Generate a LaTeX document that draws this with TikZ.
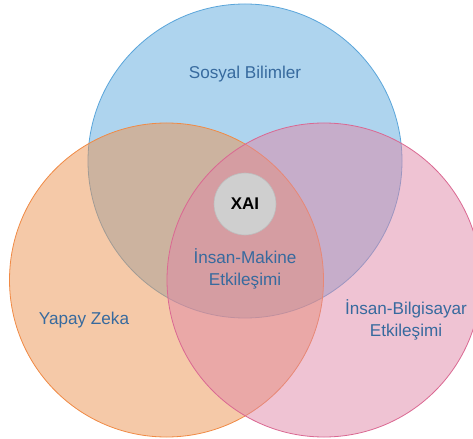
\documentclass[tikz,border=0pt]{standalone}
\usepackage{fontspec}
\setmainfont{Liberation Sans}
\definecolor{bluefill}{HTML}{5DA9DD}
\definecolor{blueline}{HTML}{5AA5DA}
\definecolor{orangefill}{HTML}{EB9351}
\definecolor{orangeline}{HTML}{F08A45}
\definecolor{pinkfill}{HTML}{DF87A7}
\definecolor{pinkline}{HTML}{DA6892}
\definecolor{xaigray}{HTML}{CFCFCF}
\definecolor{xaiedge}{HTML}{BDBDBD}
\definecolor{labelblue}{HTML}{376A9E}
\begin{document}
\begin{tikzpicture}[x=1bp,y=-1bp,
  setcircle/.style={circle,inner sep=0pt,minimum size=314bp,line width=0.8bp,fill opacity=0.5},
  lbl/.style={text=labelblue,font=\fontsize{17.2}{21.5}\selectfont,align=center,inner sep=0pt},
]
\useasboundingbox (0,0) rectangle (473,439);
% the three overlapping fields
\node[setcircle,draw=blueline,fill=bluefill]     (soc) at (245,161) {};
\node[setcircle,draw=orangeline,fill=orangefill] (ai)  at (166.5,280) {};
\node[setcircle,draw=pinkline,fill=pinkfill]     (hci) at (324,280) {};
% explainable AI at the common core
\node[circle,inner sep=0pt,minimum size=62bp,fill=xaigray,draw=xaiedge,line width=0.6bp] (xai) at (245,204) {};
\node[font=\bfseries\fontsize{17}{20}\selectfont,text=black] (xailbl) at (xai) {XAI};
% labels
\node[lbl] (soclbl) at (245,74) {Sosyal Bilimler};
\node[lbl] (ailbl)  at (84,320) {Yapay Zeka};
\node[lbl] (hmilbl) at (245,269) {İnsan-Makine\\Etkileşimi};
\node[lbl] (hcilbl) at (406,320) {İnsan-Bilgisayar\\Etkileşimi};
\end{tikzpicture}
\end{document}
